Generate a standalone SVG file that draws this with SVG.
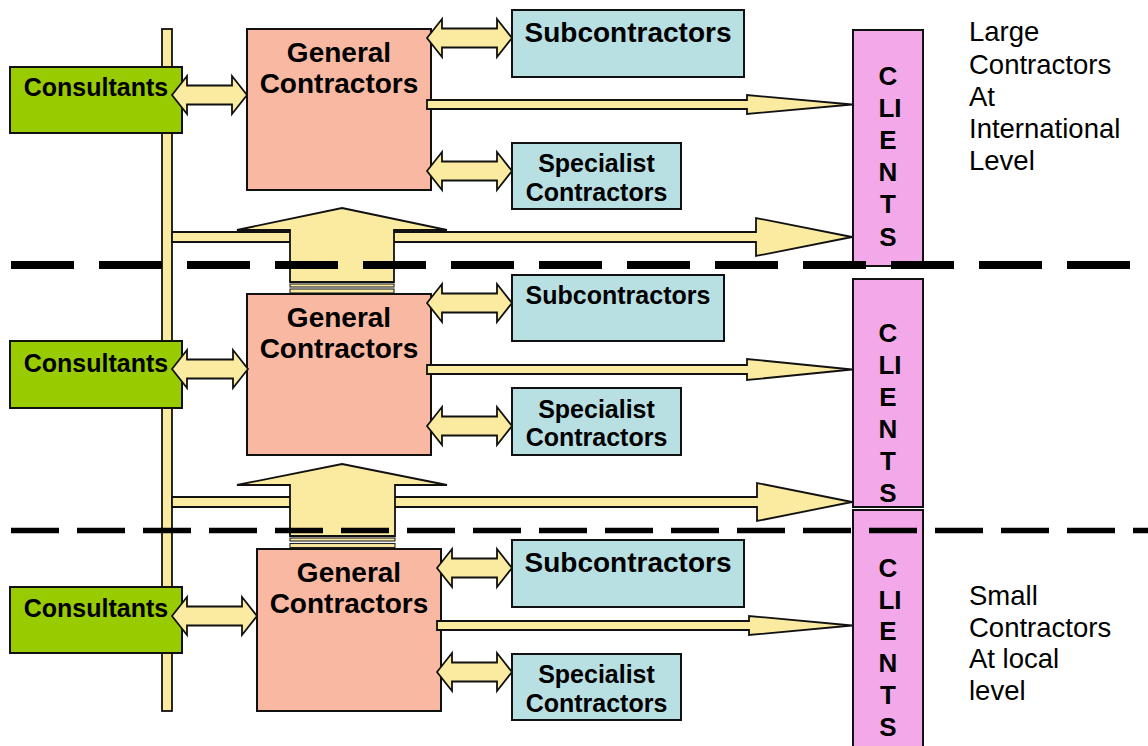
<svg xmlns="http://www.w3.org/2000/svg" width="1148" height="746" viewBox="0 0 1148 746">
  <style>
    .flow { fill: #FBEBA1; stroke: #111; stroke-width: 1.8; stroke-linejoin: miter; }
    .stripe { fill: #FBEBA1; stroke: #222; stroke-width: 1.1; }
    .box { stroke: #111; stroke-width: 2; }
    .cons { fill: #99CC00; }
    .gc { fill: #F9B8A1; }
    .sub { fill: #B8DFE2; }
    .cli { fill: #F3A9E9; }
    .lbl { font-family: "Liberation Sans", Arial, sans-serif; font-weight: bold; fill: #000; text-anchor: middle; }
    .note { font-family: "Liberation Sans", Arial, sans-serif; font-size: 27.5px; fill: #000; }
    .divider { stroke: #000; fill: none; }
  </style>

  <!-- vertical consultant spine -->
  <g id="spine">
    <rect class="flow" x="162" y="29" width="10" height="682"/>
  </g>

  <!-- long flows from the spine and upward promotion arrows -->
  <g id="connectors-back">
    <polygon class="flow" points="172,232 756,232 756,218 852,237 756,256 756,242 172,242"/>
    <polygon class="flow" points="172,497 757,497 757,483 852,502 757,521 757,507 172,507"/>
    <g id="up-arrow-1">
      <polygon class="flow" points="342,208 447,230 394,230 394,282 290,282 290,230 237,230"/>
      <rect class="stripe" x="290" y="284" width="104" height="3"/>
      <rect class="stripe" x="290" y="289" width="104" height="4"/>
    </g>
    <g id="up-arrow-2">
      <polygon class="flow" points="342,464 447,485 395,485 395,536 290,536 290,485 237,485"/>
      <rect class="stripe" x="290" y="538" width="105" height="3"/>
      <rect class="stripe" x="290" y="543.5" width="105" height="4"/>
    </g>
  </g>

  <!-- level 1 -->
  <g id="consultants-1">
    <rect class="box cons" x="10" y="67" width="172" height="66"/>
    <text class="lbl" x="96" y="96" font-size="25">Consultants</text>
  </g>
  <g id="general-contractors-1">
    <rect class="box gc" x="247" y="29" width="184" height="161"/>
    <text class="lbl" x="339" y="62" font-size="28">General</text>
    <text class="lbl" x="339" y="93" font-size="28">Contractors</text>
  </g>
  <g id="subcontractors-1">
    <rect class="box sub" x="512" y="10" width="232" height="67"/>
    <text class="lbl" x="628" y="42" font-size="28">Subcontractors</text>
  </g>
  <g id="specialist-1">
    <rect class="box sub" x="512" y="143" width="169" height="66"/>
    <text class="lbl" x="596.5" y="172" font-size="25">Specialist</text>
    <text class="lbl" x="596.5" y="201" font-size="25">Contractors</text>
  </g>
  <g id="clients-1">
    <rect class="box cli" x="853" y="30" width="70" height="236"/>
    <text class="lbl" x="888" font-size="26">
      <tspan x="888" y="85">C</tspan><tspan x="890" y="117">LI</tspan><tspan x="888" y="149">E</tspan><tspan x="888" y="181">N</tspan><tspan x="888" y="213">T</tspan><tspan x="888" y="246">S</tspan>
    </text>
  </g>

  <!-- level 2 -->
  <g id="consultants-2">
    <rect class="box cons" x="10" y="341" width="172" height="67"/>
    <text class="lbl" x="96" y="372" font-size="25">Consultants</text>
  </g>
  <g id="general-contractors-2">
    <rect class="box gc" x="247" y="294" width="184" height="161"/>
    <text class="lbl" x="339" y="327" font-size="28">General</text>
    <text class="lbl" x="339" y="358" font-size="28">Contractors</text>
  </g>
  <g id="subcontractors-2">
    <rect class="box sub" x="512" y="275" width="212" height="66"/>
    <text class="lbl" x="618" y="304" font-size="25">Subcontractors</text>
  </g>
  <g id="specialist-2">
    <rect class="box sub" x="512" y="388" width="169" height="67"/>
    <text class="lbl" x="596.5" y="418" font-size="25">Specialist</text>
    <text class="lbl" x="596.5" y="446" font-size="25">Contractors</text>
  </g>
  <g id="clients-2">
    <rect class="box cli" x="853" y="279" width="70" height="228"/>
    <text class="lbl" x="888" font-size="26">
      <tspan x="888" y="342">C</tspan><tspan x="890" y="374">LI</tspan><tspan x="888" y="406">E</tspan><tspan x="888" y="438">N</tspan><tspan x="888" y="470">T</tspan><tspan x="888" y="502">S</tspan>
    </text>
  </g>

  <!-- level 3 -->
  <g id="consultants-3">
    <rect class="box cons" x="10" y="587" width="172" height="66"/>
    <text class="lbl" x="96" y="617" font-size="25">Consultants</text>
  </g>
  <g id="general-contractors-3">
    <rect class="box gc" x="257" y="549" width="184" height="162"/>
    <text class="lbl" x="349" y="582" font-size="28">General</text>
    <text class="lbl" x="349" y="613" font-size="28">Contractors</text>
  </g>
  <g id="subcontractors-3">
    <rect class="box sub" x="512" y="540" width="232" height="67"/>
    <text class="lbl" x="628" y="572" font-size="28">Subcontractors</text>
  </g>
  <g id="specialist-3">
    <rect class="box sub" x="512" y="654" width="169" height="66"/>
    <text class="lbl" x="596.5" y="683" font-size="25">Specialist</text>
    <text class="lbl" x="596.5" y="712" font-size="25">Contractors</text>
  </g>
  <g id="clients-3">
    <rect class="box cli" x="853" y="510" width="70" height="250"/>
    <text class="lbl" x="888" font-size="26">
      <tspan x="888" y="577">C</tspan><tspan x="890" y="609">LI</tspan><tspan x="888" y="640">E</tspan><tspan x="888" y="672">N</tspan><tspan x="888" y="704">T</tspan><tspan x="888" y="736">S</tspan>
    </text>
  </g>

  <!-- two-way links and contractor-to-client flows -->
  <g id="connectors">
    <polygon class="flow" points="172,95 187,76 187,85.5 232,85.5 232,76 247,95 232,114 232,104.5 187,104.5 187,114"/>
    <polygon class="flow" points="427,38 442,19 442,28.5 497,28.5 497,19 512,38 497,57 497,47.5 442,47.5 442,57"/>
    <polygon class="flow" points="427,171 442,152 442,161.5 497,161.5 497,152 512,171 497,190 497,180.5 442,180.5 442,190"/>
    <polygon class="flow" points="427,100 747,100 747,95 852,104.5 747,114 747,109 427,109"/>

    <polygon class="flow" points="172,369 187,350 187,359.5 233,359.5 233,350 248,369 233,388 233,378.5 187,378.5 187,388"/>
    <polygon class="flow" points="427,303 442,284 442,293.5 497,293.5 497,284 512,303 497,322 497,312.5 442,312.5 442,322"/>
    <polygon class="flow" points="427,426 442,407 442,416.5 497,416.5 497,407 512,426 497,445 497,435.5 442,435.5 442,445"/>
    <polygon class="flow" points="427,365 747,365 747,359 852,369.5 747,380 747,374 427,374"/>

    <polygon class="flow" points="172,616 187,597 187,606.5 242,606.5 242,597 257,616 242,635 242,625.5 187,625.5 187,635"/>
    <polygon class="flow" points="437,568 452,549 452,558.5 497,558.5 497,549 512,568 497,587 497,577.5 452,577.5 452,587"/>
    <polygon class="flow" points="437,672 452,653 452,662.5 497,662.5 497,653 512,672 497,691 497,681.5 452,681.5 452,691"/>
    <polygon class="flow" points="437,621 749,621 749,616 852,625.5 749,635 749,630 437,630"/>
  </g>

  <!-- level dividers -->
  <g id="dividers">
    <line class="divider" x1="11" y1="265" x2="1130" y2="265" stroke-width="8" stroke-dasharray="63 25"/>
    <line class="divider" x1="11" y1="530.5" x2="1148" y2="530.5" stroke-width="5.5" stroke-dasharray="48 18"/>
  </g>

  <!-- side notes -->
  <g id="note-large">
    <text class="note" x="969" y="41">Large</text>
    <text class="note" x="969" y="74">Contractors</text>
    <text class="note" x="969" y="106">At</text>
    <text class="note" x="969" y="138">International</text>
    <text class="note" x="969" y="170">Level</text>
  </g>
  <g id="note-small">
    <text class="note" x="969" y="605">Small</text>
    <text class="note" x="969" y="637">Contractors</text>
    <text class="note" x="969" y="668">At local</text>
    <text class="note" x="969" y="700">level</text>
  </g>
</svg>
